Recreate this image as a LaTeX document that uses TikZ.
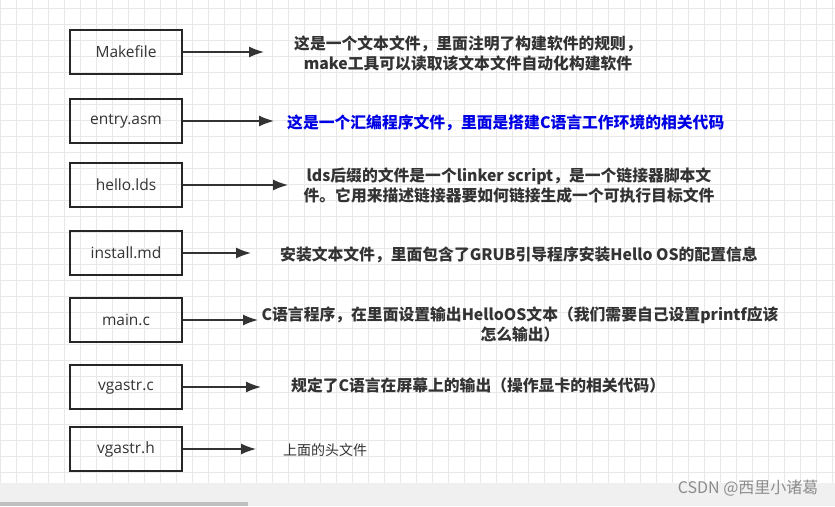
\documentclass[tikz,border=0pt]{standalone}
\usepackage{fontspec}
\usetikzlibrary{arrows.meta}
\setmainfont{Open Sans}
\newfontfamily\cjk{Noto Sans CJK SC}
\begin{document}
\begin{tikzpicture}[x=1pt,y=-1pt,
  box/.style={draw=black!85,line width=1.6pt,minimum width=112pt,minimum height=44pt,inner sep=0pt,font=\fontsize{15.5}{18}\selectfont,text=black!80},
  arr/.style={draw=black!80,line width=1.4pt,-{Latex[length=15pt,width=11pt]}},
  desc/.style={font=\cjk\bfseries\fontsize{15.8}{20}\selectfont,text=black!80,inner sep=0pt,align=left,anchor=west}]
\useasboundingbox (0,0) rectangle (835,506);
\fill[white] (0,0) rectangle (835,506);
\foreach \i in {0,16,...,835} \draw[black!9,line width=0.6pt] (\i,0) -- (\i,483);
\foreach \j in {8,24,...,483} \draw[black!9,line width=0.6pt] (0,\j) -- (835,\j);
\fill[black!6] (0,483) rectangle (835,506);
\fill[black!25] (0,502) rectangle (248,506);
\node[font=\cjk\fontsize{16}{18}\selectfont,text=black!45,anchor=east] (wm) at (822,488) {CSDN @西里小诸葛};
\node[box] (b1) at (126,52) {Makefile};
\node[box] (b2) at (126,121) {entry.asm};
\node[box] (b3) at (126,185) {hello.lds};
\node[box] (b4) at (126,253) {install.md};
\node[box] (b5) at (126,320) {main.c};
\node[box] (b6) at (126,387) {vgastr.c};
\node[box] (b7) at (126,449) {vgastr.h};
\coordinate (e1) at (264,52);
\coordinate (e2) at (274,121);
\coordinate (e3) at (288,185);
\coordinate (e4) at (251,253);
\coordinate (e5) at (258,320);
\coordinate (e6) at (261,387);
\coordinate (e7) at (256,449);
\foreach \k in {1,...,7} \draw[arr] (b\k) -- (e\k);
\node[desc,align=center,anchor=center] (t1) at (468,53) {这是一个文本文件，里面注明了构建软件的规则，\\make工具可以读取该文本文件自动化构建软件};
\node[desc,text=blue!90!black] (t2) at (287,123) {这是一个汇编程序文件，里面是搭建C语言工作环境的相关代码};
\node[desc,align=center,anchor=center] (t3) at (509,186) {lds后缀的文件是一个linker script，是一个链接器脚本文\\件。它用来描述链接器要如何链接生成一个可执行目标文件};
\node[desc] (t4) at (280,255) {安装文本文件，里面包含了GRUB引导程序安装Hello OS的配置信息};
\node[desc,align=center,anchor=center] (t5) at (520,324) {C语言程序，在里面设置输出HelloOS文本（我们需要自己设置printf应该\\怎么输出）};
\node[desc] (t6) at (291,385) {规定了C语言在屏幕上的输出（操作显卡的相关代码）};
\node[desc,font=\cjk\fontsize{14}{16}\selectfont] (t7) at (283,450) {上面的头文件};
\end{tikzpicture}
\end{document}
